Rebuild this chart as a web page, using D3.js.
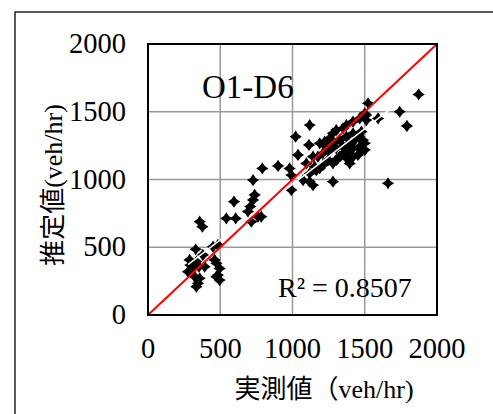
<!DOCTYPE html>
<html>
<head>
<meta charset="utf-8">
<script src="https://cdn.jsdelivr.net/npm/d3@7"></script>
<style>
  body { margin: 0; background: #fff; }
  text { font-family: "Liberation Serif", "Noto Sans CJK JP", serif; fill: #000; }
</style>
</head>
<body>
<svg id="chart" width="493" height="414"></svg>
<script>
// observed (x) vs estimated (y) volumes, veh/hr
const observed = [
  358, 376, 330, 293, 311, 277, 335, 353, 323, 358, 335, 346, 392, 450, 484, 461, 473, 496, 484, 496, 473, 288, 380,
  542, 607, 595, 715, 727, 738, 727, 708, 692, 761, 784, 791, 900, 980, 992, 992, 1022, 1038, 1119, 1114, 1073, 1119,
  1142, 1119, 1096, 1153, 1280, 1661,
  1188, 1223, 1257, 1280, 1303, 1350, 1373, 1419, 1465, 1500, 1523, 1511, 1477, 1488, 1500, 1477, 1453, 1419, 1396,
  1373, 1327, 1303, 1280, 1246, 1211, 1188, 1165, 1211, 1257, 1303, 1350, 1396, 1430, 1453, 1419, 1373, 1327, 1280,
  1234, 1350, 1419, 1465, 1500, 1384, 1592, 1742, 1792, 1873, 1142, 1176, 1511
]
const estimated = [
  689, 652, 485, 369, 357, 320, 394, 357, 283, 271, 209, 234, 357, 504, 517, 406, 381, 344, 295, 258, 283, 406, 443,
  713, 713, 836, 689, 996, 886, 849, 800, 763, 726, 726, 1082, 1100, 1082, 923, 1033, 1316, 1181, 1402, 1255, 996, 984,
  959, 1045, 1119, 1095, 984, 972,
  1267, 1279, 1304, 1341, 1365, 1378, 1402, 1427, 1451, 1488, 1562, 1439, 1353, 1291, 1267, 1218, 1181, 1168, 1119,
  1156, 1168, 1144, 1119, 1144, 1107, 1082, 1070, 1193, 1205, 1230, 1242, 1267, 1291, 1316, 1341, 1316, 1291, 1267,
  1242, 1193, 1230, 1242, 1218, 1205, 1451, 1500, 1395, 1628, 1168, 1168, 1476
]
const ticks = [0, 500, 1000, 1500, 2000]
const pairLabel = "O1-D6"
const r2Label = "R² = 0.8507"
const xTitle = "実測値（veh/hr)"
const yTitle = "推定値(veh/hr)"

const data = observed.map((v, i) => ({ x: v, y: estimated[i] }))

const svg = d3.select("#chart")

var x = d3.scaleLinear().domain([0, 2000]).range([148, 437])
var y = d3.scaleLinear().domain([0, 2000]).range([315, 44])

// outer chart border
svg.append("rect")
  .attr("x", 15).attr("y", 12)
  .attr("width", 500).attr("height", 420)
  .attr("fill", "none").attr("stroke", "#000").attr("stroke-width", 1.3)

// grid
var inner = ticks.slice(1, -1)
svg.append("g").selectAll("line.gx").data(inner).join("line")
  .attr("x1", d => x(d)).attr("x2", d => x(d))
  .attr("y1", y(0)).attr("y2", y(2000))
  .attr("stroke", "#999").attr("stroke-width", 1.5)
svg.append("g").selectAll("line.gy").data(inner).join("line")
  .attr("y1", d => y(d)).attr("y2", d => y(d))
  .attr("x1", x(0)).attr("x2", x(2000))
  .attr("stroke", "#999").attr("stroke-width", 1.5)

// four-point star marker
const star4 = {
  draw(ctx, size) {
    const r = Math.sqrt(size) / 2
    const k = r * 0.3
    ctx.moveTo(0, -r)
    ctx.quadraticCurveTo(k, -k, r, 0)
    ctx.quadraticCurveTo(k, k, 0, r)
    ctx.quadraticCurveTo(-k, k, -r, 0)
    ctx.quadraticCurveTo(-k, -k, 0, -r)
    ctx.closePath()
  }
}

svg.append("g").selectAll("path").data(data).join("path")
  .attr("transform", d => "translate(" + x(d.x) + "," + y(d.y) + ")")
  .attr("d", d3.symbol().type(star4).size(150))
  .attr("fill", "#000")

// linear trendline (white, as in the source)
var mx = d3.mean(data, d => d.x), my = d3.mean(data, d => d.y)
var slope = d3.sum(data, d => (d.x - mx) * (d.y - my)) / d3.sum(data, d => (d.x - mx) ** 2)
var icpt = my - slope * mx
var ext = d3.extent(data, d => d.x)
svg.append("line")
  .attr("x1", x(ext[0])).attr("y1", y(slope * ext[0] + icpt))
  .attr("x2", x(ext[1])).attr("y2", y(slope * ext[1] + icpt))
  .attr("stroke", "#fff").attr("stroke-width", 1.5)

// y = x reference line
svg.append("line")
  .attr("x1", x(0)).attr("y1", y(0))
  .attr("x2", x(2000)).attr("y2", y(2000))
  .attr("stroke", "#f00").attr("stroke-width", 2)

// plot frame
svg.append("rect")
  .attr("x", x(0)).attr("y", y(2000))
  .attr("width", x(2000) - x(0)).attr("height", y(0) - y(2000))
  .attr("fill", "none").attr("stroke", "#000").attr("stroke-width", 2)

// tick labels
svg.append("g").selectAll("text").data(ticks).join("text")
  .attr("x", 126).attr("y", d => y(d) + 9)
  .attr("text-anchor", "end").attr("font-size", 28.5)
  .text(d => d)
svg.append("g").selectAll("text").data(ticks).join("text")
  .attr("x", d => x(d)).attr("y", 358)
  .attr("text-anchor", "middle").attr("font-size", 28.5)
  .text(d => d)

// annotations
svg.append("text").attr("x", 202).attr("y", 98).attr("font-size", 33).text(pairLabel)
svg.append("text").attr("x", 278).attr("y", 297).attr("font-size", 28).text(r2Label)

// axis titles
svg.append("text").attr("x", 324).attr("y", 398)
  .attr("text-anchor", "middle").attr("font-size", 26).text(xTitle)
svg.append("text")
  .attr("transform", "translate(62,185) rotate(-90)")
  .attr("text-anchor", "middle").attr("font-size", 26).text(yTitle)
</script>
</body>
</html>
